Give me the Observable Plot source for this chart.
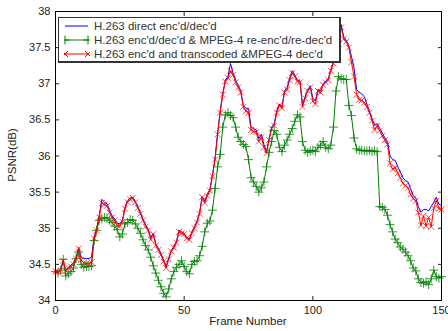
<!DOCTYPE html>
<html>
<head>
<meta charset="utf-8">
<script src="https://cdn.jsdelivr.net/npm/d3@7"></script>
<script src="https://cdn.jsdelivr.net/npm/@observablehq/plot@0.6"></script>
<style>
  body { margin: 0; background: #fff; }
  #wrap { position: relative; width: 448px; height: 331px; font-family: "Liberation Sans", Arial, sans-serif; color: #222; }
  #legend { position: absolute; left: 58px; top: 17px; width: 283px; height: 46px; box-sizing: border-box;
            border: 1px solid #333; border-right-width: 2px; border-bottom-width: 2px; background: #fff; font-size: 11.5px; color: #333; }
  .row { position: absolute; left: 0; height: 14px; line-height: 14px; white-space: nowrap; }
  .row svg { position: absolute; left: 5px; top: 0; }
  .row span { position: absolute; left: 35px; top: 0; }
  #xlabel { position: absolute; left: 55px; width: 386px; top: 315px; text-align: center; font-size: 11.5px; }
  #ylabel { position: absolute; left: 12px; top: 155px; font-size: 11.5px; transform: translate(-50%, -50%) rotate(-90deg); white-space: nowrap; }
</style>
</head>
<body>
<div id="wrap">
  <div id="chart"></div>
  <div id="legend"></div>
  <div id="xlabel">Frame Number</div>
  <div id="ylabel">PSNR(dB)</div>
</div>
<script>
const seriesNames = [
  "H.263 direct enc'd/dec'd",
  "H.263 enc'd/dec'd & MPEG-4 re-enc'd/re-dec'd",
  "H.263 enc'd and transcoded &MPEG-4 dec'd"
];
const xTicks = [0, 50, 100, 150];
const yTicks = [34, 34.5, 35, 35.5, 36, 36.5, 37, 37.5, 38];

// H.263 direct enc'd/dec'd (blue), frames 0..150
const direct = [
  34.41,34.40,34.43,34.53,34.42,34.46,34.49,34.52,34.60,34.73,
  34.60,34.58,34.58,34.58,34.60,34.88,35.00,35.18,35.40,35.36,
  35.34,35.25,35.17,35.13,35.07,35.06,35.11,35.29,35.38,35.42,
  35.43,35.37,35.30,35.22,35.13,35.05,34.99,34.87,34.93,34.78,
  34.72,34.65,34.56,34.47,34.59,34.69,34.75,34.82,34.97,34.95,
  34.93,34.88,34.85,34.95,35.02,35.10,35.22,35.44,35.37,35.47,
  35.54,35.74,35.97,36.32,36.62,36.87,37.05,37.10,37.28,37.15,
  37.05,36.98,36.90,36.70,36.66,36.66,36.40,36.38,36.36,36.24,
  36.30,36.16,36.06,36.24,36.40,36.45,36.63,36.72,36.68,36.90,
  36.95,37.08,37.18,37.12,37.05,37.04,36.70,36.82,36.92,36.97,
  36.80,36.76,36.92,36.90,37.00,37.04,37.07,37.20,37.30,37.42,
  37.58,37.82,37.65,37.60,37.52,37.38,37.22,36.92,36.88,36.86,
  36.82,36.72,36.62,36.52,36.42,36.45,36.38,36.32,36.25,36.20,
  36.00,35.95,35.94,35.85,35.78,35.70,35.66,35.64,35.55,35.45,
  35.42,35.30,35.22,35.26,35.26,35.24,35.30,35.36,35.43,35.33,
  35.32
];
// H.263 enc'd/dec'd & MPEG-4 re-enc'd/re-dec'd (green)
const reencoded = [
  34.40,34.38,34.42,34.57,34.34,34.37,34.40,34.45,34.58,34.67,
  34.50,34.46,34.47,34.47,34.48,34.83,34.97,35.11,35.13,35.15,
  35.14,35.11,35.08,35.03,34.98,34.88,34.92,35.06,35.08,35.12,
  35.11,35.06,35.00,34.93,34.84,34.76,34.70,34.60,34.48,34.38,
  34.28,34.19,34.10,34.05,34.16,34.30,34.40,34.46,34.50,34.55,
  34.47,34.40,34.37,34.50,34.54,34.55,34.62,34.75,34.95,35.07,
  35.10,35.25,35.55,35.85,36.02,36.40,36.57,36.60,36.56,36.53,
  36.40,36.26,36.20,36.16,36.13,35.95,35.70,35.64,35.58,35.50,
  35.56,35.64,35.85,36.05,36.20,36.35,36.30,36.12,36.06,36.15,
  36.22,36.30,36.38,36.48,36.57,36.54,36.20,36.08,36.05,36.07,
  36.08,36.06,36.12,36.15,36.20,36.12,36.10,36.15,36.40,36.90,
  37.10,37.07,37.06,37.06,36.70,36.56,36.25,36.10,36.08,36.08,
  36.07,36.07,36.08,36.06,36.07,36.06,35.30,35.29,35.26,35.18,
  35.05,34.95,34.85,34.80,34.74,34.71,34.67,34.62,34.55,34.45,
  34.41,34.30,34.25,34.24,34.26,34.22,34.30,34.42,34.33,34.31,
  34.33
];
// H.263 enc'd and transcoded & MPEG-4 dec'd (red)
const transcoded = [
  34.40,34.39,34.42,34.55,34.41,34.45,34.47,34.50,34.58,34.72,
  34.56,34.52,34.51,34.51,34.53,34.86,34.97,35.15,35.35,35.33,
  35.31,35.22,35.15,35.11,35.04,35.03,35.09,35.27,35.36,35.40,
  35.42,35.36,35.28,35.20,35.11,35.02,34.97,34.84,34.92,34.76,
  34.70,34.63,34.54,34.45,34.57,34.68,34.73,34.80,34.95,34.93,
  34.92,34.86,34.84,34.93,35.00,35.08,35.20,35.43,35.35,35.45,
  35.52,35.72,35.95,36.30,36.60,36.85,37.03,37.08,37.18,37.12,
  37.02,36.95,36.88,36.68,36.62,36.60,36.36,36.34,36.33,36.20,
  36.26,36.12,36.04,36.22,36.38,36.42,36.60,36.70,36.66,36.88,
  36.92,37.05,37.15,37.10,37.03,37.02,36.68,36.80,36.90,36.95,
  36.76,36.72,36.90,36.88,36.98,37.02,37.05,37.18,37.28,37.40,
  37.55,37.78,37.62,37.58,37.50,37.30,37.10,36.85,36.78,36.77,
  36.74,36.68,36.60,36.49,36.36,36.42,36.35,36.28,36.22,36.16,
  35.90,35.82,35.84,35.76,35.70,35.62,35.59,35.56,35.47,35.41,
  35.38,35.22,35.04,35.17,35.03,35.15,35.02,35.28,35.38,35.27,
  35.26
];

const colors = ["#0000ff", "#008000", "#ff0000"];
const toRows = (vals, s) => vals.map((v, i) => ({frame: i, psnr: v, series: s}));
const blueRows = toRows(direct, seriesNames[0]);
const greenRows = toRows(reencoded, seriesNames[1]);
const redRows = toRows(transcoded, seriesNames[2]);

const chart = Plot.plot({
  width: 448,
  height: 331,
  marginLeft: 55,
  marginRight: 7,
  marginTop: 11,
  marginBottom: 31,
  style: {fontFamily: "'Liberation Sans', Arial, sans-serif", fontSize: "11px", color: "#222", background: "#fff"},
  x: {domain: [0, 150]},
  y: {domain: [34, 38]},
  marks: [
    Plot.line(blueRows, {x: "frame", y: "psnr", stroke: colors[0], strokeWidth: 1}),
    Plot.line(greenRows, {x: "frame", y: "psnr", stroke: colors[1], strokeWidth: 1}),
    Plot.dot(greenRows, {x: "frame", y: "psnr", symbol: "plus", r: 3, stroke: colors[1], strokeWidth: 1, strokeOpacity: 0.8}),
    Plot.line(redRows, {x: "frame", y: "psnr", stroke: colors[2], strokeWidth: 1}),
    Plot.dot(redRows, {x: "frame", y: "psnr", symbol: "times", r: 2.8, stroke: colors[2], strokeWidth: 1, strokeOpacity: 0.7}),
    Plot.axisX({anchor: "bottom", ticks: xTicks, tickSize: -4, tickPadding: 10, tickFormat: d3.format("~g"), label: null}),
    Plot.axisX({anchor: "top", ticks: xTicks, tickSize: -4, tickFormat: () => "", label: null}),
    Plot.axisY({anchor: "left", ticks: yTicks, tickSize: -4, tickPadding: 9, tickFormat: d3.format("~g"), label: null}),
    Plot.axisY({anchor: "right", ticks: yTicks, tickSize: -4, tickFormat: () => "", label: null}),
    Plot.frame({stroke: "#000", strokeWidth: 1})
  ]
});
document.getElementById("chart").appendChild(chart);

// Legend
const legend = document.getElementById("legend");
const symbols = [null, "plus", "times"];
seriesNames.forEach((name, i) => {
  const row = document.createElement("div");
  row.className = "row";
  row.style.top = (1 + i * 14) + "px";
  let svg = `<svg width="26" height="14"><line x1="1" x2="24" y1="7" y2="7" stroke="${colors[i]}" stroke-width="1"/>`;
  if (symbols[i] === "plus") {
    [1, 24].forEach(cx => svg += `<path d="M${cx-4.5},7h9M${cx},2.5v9" stroke="${colors[i]}" fill="none"/>`);
  } else if (symbols[i] === "times") {
    [1, 24].forEach(cx => svg += `<path d="M${cx-3},4l6,6M${cx+3},4l-6,6" stroke="${colors[i]}" fill="none"/>`);
  }
  svg += `</svg>`;
  row.innerHTML = svg + `<span>${name}</span>`;
  legend.appendChild(row);
});
</script>
</body>
</html>
